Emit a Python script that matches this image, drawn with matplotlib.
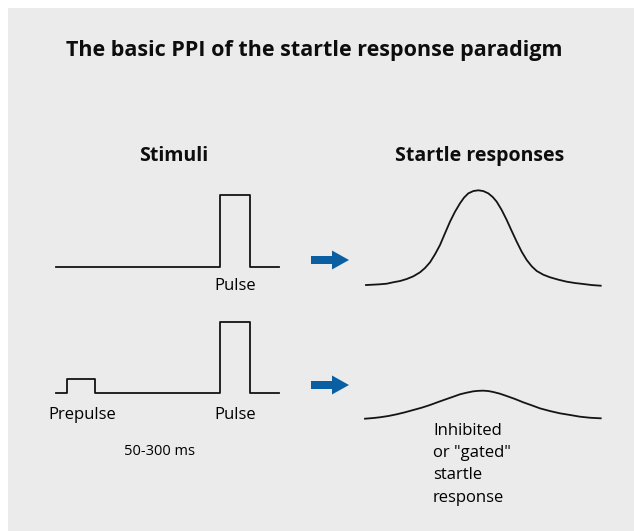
#!/usr/bin/env python3
# -*- coding: utf-8 -*-
"""
Esquema del paradigma PPI (prepulse inhibition) del reflejo de sobresalto.
"""

import matplotlib
matplotlib.use('Agg')
import matplotlib.pyplot as plt
from matplotlib.patches import Rectangle, FancyArrow

plt.rcParams['font.family'] = ['Open Sans', 'DejaVu Sans']

W, H = 634, 531

TITLE = 'The basic PPI of the startle response paradigm'
HEAD_LEFT = 'Stimuli'
HEAD_RIGHT = 'Startle responses'

# estimulos: tiempo (unidades arbitrarias) y amplitud relativa al pulso
pulse_t = [0, 164, 164, 194, 194, 223]
pulse_amp = [0, 0, 1, 1, 0, 0]

prepulse_t = [0, 11, 11, 39.6, 39.6, 164, 164, 194, 194, 223]
prepulse_amp = [0, 0, 0.195, 0.195, 0, 0, 1, 1, 0, 0]

# respuestas de sobresalto
resp_x = [0, 7.3, 14, 20.7, 27.3, 34, 40.7, 47.3, 54, 59, 64, 69, 74, 79,
          84, 89, 94, 98, 102.3, 107.3, 112.3, 117.3, 122.3, 126.7, 130.7,
          135.7, 140.7, 145.7, 150.7, 155.7, 160.7, 165.7, 170.7, 177.3, 184,
          192.3, 200.7, 209, 217.3, 225.7, 234.7]
resp_full = [0.010, 0.014, 0.018, 0.024, 0.039, 0.052, 0.073, 0.101, 0.143,
             0.188, 0.247, 0.331, 0.428, 0.551, 0.672, 0.776, 0.864, 0.923,
             0.968, 0.992, 1.0, 0.992, 0.968, 0.930, 0.881, 0.794, 0.690,
             0.575, 0.463, 0.358, 0.272, 0.206, 0.157, 0.118, 0.091, 0.066,
             0.045, 0.031, 0.021, 0.010, 0.003]

gated_x = [-1, 7.3, 14, 22.3, 30.7, 39, 47.3, 55.7, 64, 72.3, 80.7, 87.3, 94,
           100.7, 107.3, 112.3, 117.3, 122.3, 127.3, 134, 140.7, 149, 157.3,
           165.7, 174, 184, 194, 204, 214, 224, 234.7]
gated_amp = [0.0, 0.007, 0.015, 0.028, 0.046, 0.067, 0.091, 0.115, 0.143,
             0.175, 0.206, 0.230, 0.255, 0.272, 0.286, 0.291, 0.293, 0.289,
             0.279, 0.261, 0.237, 0.206, 0.171, 0.140, 0.108, 0.080, 0.056,
             0.039, 0.021, 0.010, 0.004]

RESPONSE_NOTE = ['Inhibited', 'or "gated"', 'startle', 'response']

BG = '#ebebeb'
ARROW_COLOR = '#0a5fa3'
LINE_COLOR = '#141414'


def caja(fig, x0, y0, x1, y1):
    """Crea un axes a partir de una caja en pixeles (origen arriba a la izquierda)."""
    ax = fig.add_axes([x0 / W, 1 - y1 / H, (x1 - x0) / W, (y1 - y0) / H])
    ax.set_axis_off()
    ax.patch.set_visible(False)
    return ax


def main():
    fig = plt.figure(figsize=(W / 100, H / 100), dpi=100)
    fig.patch.set_facecolor('white')

    # capa de fondo y textos en coordenadas de pixel
    base = fig.add_axes([0, 0, 1, 1])
    base.set_xlim(0, W)
    base.set_ylim(H, 0)
    base.set_axis_off()
    base.add_patch(Rectangle((8, 8), W - 8, H - 8, facecolor=BG, edgecolor='none'))

    base.text(314, 56, TITLE, ha='center', va='baseline', fontsize=15.5,
              fontweight='bold', color='#0d0d0d')
    base.text(174, 161, HEAD_LEFT, ha='center', va='baseline', fontsize=14,
              fontweight='bold', color='#0d0d0d')
    base.text(480, 161, HEAD_RIGHT, ha='center', va='baseline', fontsize=14,
              fontweight='bold', color='#0d0d0d')

    base.text(235, 290, 'Pulse', ha='center', va='baseline', fontsize=12)
    base.text(82, 419, 'Prepulse', ha='center', va='baseline', fontsize=12)
    base.text(235, 419, 'Pulse', ha='center', va='baseline', fontsize=12)
    base.text(160, 455, '50-300 ms', ha='center', va='baseline', fontsize=10.5)
    for i, linea in enumerate(RESPONSE_NOTE):
        base.text(433, 435 + 22.2 * i, linea, ha='left', va='baseline', fontsize=12)

    for yc in (260, 385):
        base.add_patch(FancyArrow(311, yc, 38, 0, width=8, head_width=19,
                                  head_length=17, length_includes_head=True,
                                  facecolor=ARROW_COLOR, edgecolor='none'))

    # estimulos
    ax1 = caja(fig, 55.7, 195, 279, 267)
    ax1.plot(pulse_t, pulse_amp, color=LINE_COLOR, lw=1.3, clip_on=False)
    ax1.set_xlim(0, 223)
    ax1.set_ylim(0, 1)

    ax2 = caja(fig, 55.7, 321.7, 279, 393.3)
    ax2.plot(prepulse_t, prepulse_amp, color=LINE_COLOR, lw=1.3, clip_on=False)
    ax2.set_xlim(0, 223)
    ax2.set_ylim(0, 1)

    # respuestas
    ax3 = caja(fig, 366, 190.3, 601, 286)
    ax3.plot(resp_x, resp_full, color=LINE_COLOR, lw=1.3, clip_on=False,
             solid_joinstyle='round')
    ax3.set_xlim(0, 235)
    ax3.set_ylim(0, 1)

    ax4 = caja(fig, 366, 418.7 - 95.7, 601, 418.7)
    ax4.plot(gated_x, gated_amp, color=LINE_COLOR, lw=1.3, clip_on=False,
             solid_joinstyle='round')
    ax4.set_xlim(0, 235)
    ax4.set_ylim(0, 1)

    fig.savefig('out.png', dpi=100, facecolor=fig.get_facecolor())


if __name__ == '__main__':
    main()
